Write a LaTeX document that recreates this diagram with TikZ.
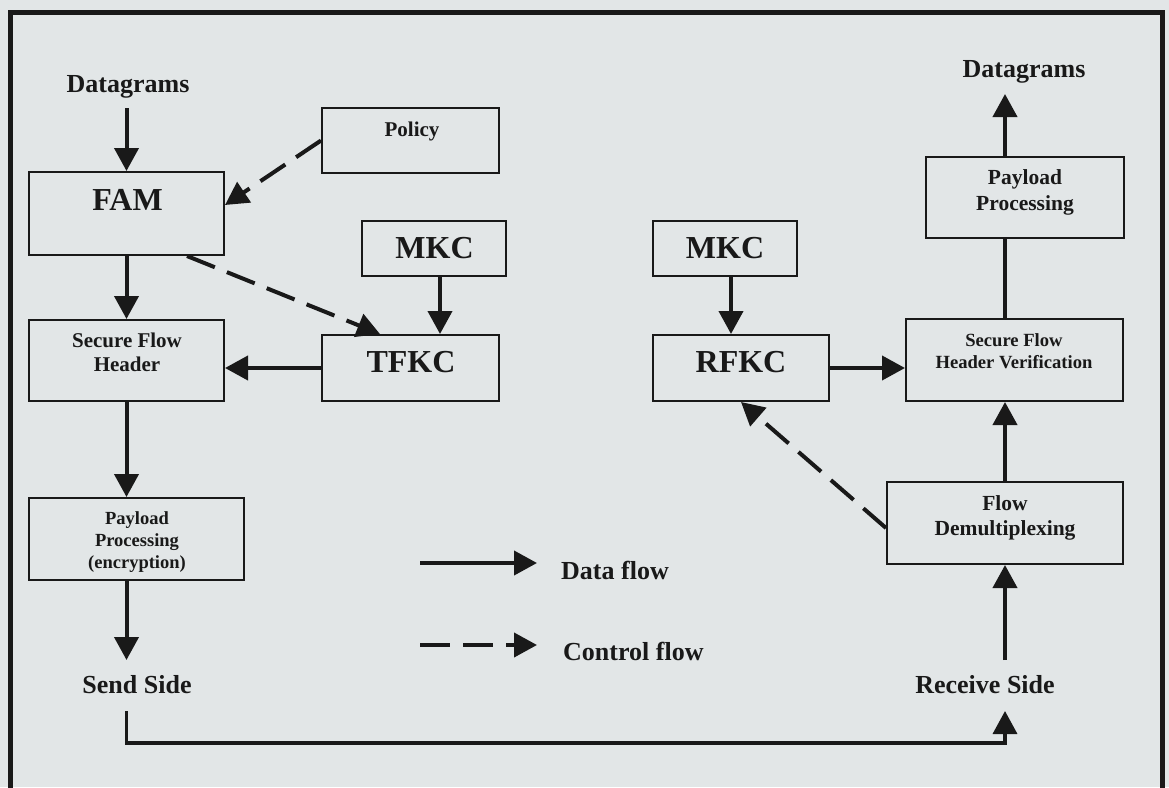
\documentclass[tikz,border=0pt]{standalone}
\usepackage{fontspec}
\setmainfont{Liberation Serif}
\usetikzlibrary{arrows.meta}
\definecolor{bg}{RGB}{226,230,231}
\definecolor{ink}{RGB}{25,25,25}
\begin{document}
\begin{tikzpicture}[x=1pt,y=-1pt,
  box/.style={draw=ink,line width=2pt,inner sep=0pt},
  txt/.style={text=ink,inner sep=0pt,align=center},
  tA/.style={txt,font=\fontsize{32}{36}\selectfont\bfseries},
  tB/.style={txt,font=\fontsize{26}{30}\selectfont\bfseries},
  tC/.style={txt,font=\fontsize{21}{24}\selectfont\bfseries},
  arr/.style={draw=ink,line width=4pt,-{Triangle[length=23pt,width=24pt]}},
  ctl/.style={arr,dash pattern=on 30pt off 13pt},
  plainline/.style={draw=ink,line width=4pt},
  frame/.style={draw=ink,line width=5pt}]
\useasboundingbox (0,0) rectangle (1169,787);
\clip (0,0) rectangle (1169,787);
\fill[bg] (0,0) rectangle (1169,787);
\draw[frame] (10,800) -- (10,12) -- (1162,12) -- (1162,800);

% boxes
\node[box,minimum width=195pt,minimum height=83pt] (fam) at (126.5,213.5) {};
\node[box,minimum width=177pt,minimum height=65pt] (policy) at (410.5,140.5) {};
\node[box,minimum width=144pt,minimum height=55pt] (mkcL) at (434,248.5) {};
\node[box,minimum width=177pt,minimum height=66pt] (tfkc) at (410.5,368) {};
\node[box,minimum width=195pt,minimum height=81pt] (sfh) at (126.5,360.5) {};
\node[box,minimum width=215pt,minimum height=82pt] (ppE) at (136.5,539) {};
\node[box,minimum width=144pt,minimum height=55pt] (mkcR) at (725,248.5) {};
\node[box,minimum width=176pt,minimum height=66pt] (rfkc) at (741,368) {};
\node[box,minimum width=217pt,minimum height=82pt] (sfhv) at (1014.5,360) {};
\node[box,minimum width=236pt,minimum height=82pt] (fd) at (1005,523) {};
\node[box,minimum width=198pt,minimum height=81pt] (ppR) at (1025,197.5) {};

% texts
\node[tB,anchor=base] (dgL) at (128,92) {Datagrams};
\node[tB,anchor=base] (dgR) at (1024,77) {Datagrams};
\node[tA,anchor=base] (famT) at (127.5,210) {FAM};
\node[tC,anchor=base] (policyT) at (412,136) {Policy};
\node[tA,anchor=base] (mkcLT) at (434.5,258) {MKC};
\node[tA,anchor=base] (mkcRT) at (725,258) {MKC};
\node[tA,anchor=base] (tfkcT) at (411,372) {TFKC};
\node[tA,anchor=base] (rfkcT) at (741,372) {RFKC};
\node[tB,anchor=base] (send) at (137,693) {Send Side};
\node[tB,anchor=base] (recv) at (985,693) {Receive Side};
\node[tB,anchor=base west] (dataT) at (561,579) {Data flow};
\node[tB,anchor=base west] (ctlT) at (563,660) {Control flow};
\node[tC] (sfhT) at (127,352) {Secure Flow\\Header};
\node[txt,font=\fontsize{18.6}{22}\selectfont\bfseries] (sfhvT) at (1014,351) {Secure Flow\\Header Verification};
\node[txt,font=\fontsize{21.5}{26}\selectfont\bfseries] (ppRT) at (1025,192) {Payload\\Processing};
\node[txt,font=\fontsize{21.5}{25}\selectfont\bfseries] (fdT) at (1005,517.5) {Flow\\Demultiplexing};
\node[txt,font=\fontsize{18.5}{22}\selectfont\bfseries] (ppET) at (137,542) {Payload\\Processing\\(encryption)};

% free ends
\coordinate (dgLout) at (126.5,108);
\coordinate (dgRin) at (1005,94);
\coordinate (sendIn) at (126.5,660);
\coordinate (sendOut) at (126.5,711);
\coordinate (bus) at (560,743);
\coordinate (recvIn) at (1005,711);
\coordinate (recvOut) at (1005,660);
\coordinate (leg1a) at (420,563);
\coordinate (leg1b) at (537,563);
\coordinate (leg2a) at (420,645);
\coordinate (leg2b) at (537,645);

% connectors
\draw[arr] (dgLout) -- (fam.north);
\draw[arr] (fam.south) -- (sfh.north);
\draw[arr] (sfh.south) -- (sfh.south |- ppE.north);
\draw[arr] (sfh.south |- ppE.south) -- (sendIn);
\draw[arr] ([xshift=6pt]mkcL.south) -- ([xshift=6pt]mkcL.south |- tfkc.north);
\draw[arr] (tfkc.west) -- (tfkc.west -| sfh.east);
\draw[ctl] (policy.west) -- ([yshift=8.5pt]fam.east);
\draw[ctl] ([xshift=60.5pt]fam.south) -- ([xshift=-30.5pt]tfkc.north);
\draw[arr] ([xshift=6pt]mkcR.south) -- ([xshift=6pt]mkcR.south |- rfkc.north);
\draw[arr] (rfkc.east) -- (rfkc.east -| sfhv.west);
\draw[ctl] ([yshift=-5pt]fd.west) -- (rfkc.south);
\draw[arr] (recvOut) -- (fd.south);
\draw[arr] (fd.north) -- (fd.north |- sfhv.south);
\draw[plainline] (fd.north |- sfhv.north) -- (fd.north |- ppR.south);
\draw[arr] (fd.north |- ppR.north) -- (dgRin);
\draw[arr,line width=3.5pt] (sendOut) |- (bus) -| (recvIn);
\draw[arr] (leg1a) -- (leg1b);
\draw[ctl] (leg2a) -- (leg2b);
\end{tikzpicture}
\end{document}
